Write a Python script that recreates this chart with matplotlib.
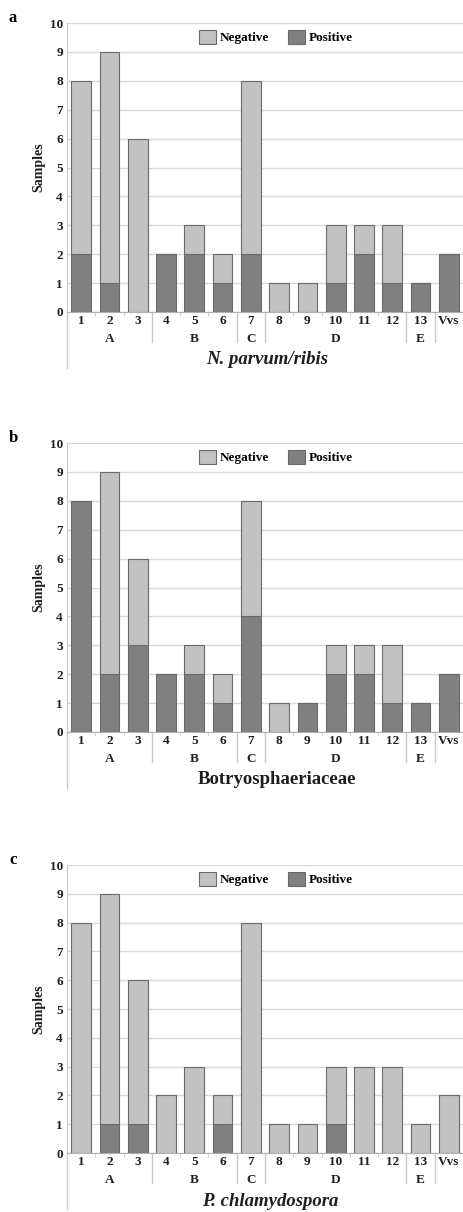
import matplotlib
matplotlib.use("Agg")
import matplotlib.pyplot as plt
import numpy as np
from matplotlib.patches import Patch

plt.rcParams['font.family'] = ['Liberation Serif', 'DejaVu Serif']
plt.rcParams['font.weight'] = 'bold'

categories = ['1', '2', '3', '4', '5', '6', '7', '8', '9', '10', '11', '12', '13', 'Vvs']
groups = ['A', 'B', 'C', 'D', 'E']
group_sizes = [3, 3, 1, 5, 1]

pos_a = [2, 1, 0, 2, 2, 1, 2, 0, 0, 1, 2, 1, 1, 2]
neg_a = [6, 8, 6, 0, 1, 1, 6, 1, 1, 2, 1, 2, 0, 0]
pos_b = [8, 2, 3, 2, 2, 1, 4, 0, 1, 2, 2, 1, 1, 2]
neg_b = [0, 7, 3, 0, 1, 1, 4, 1, 0, 1, 1, 2, 0, 0]
pos_c = [0, 1, 1, 0, 0, 1, 0, 0, 0, 1, 0, 0, 0, 0]
neg_c = [8, 8, 5, 2, 3, 1, 8, 1, 1, 2, 3, 3, 1, 2]

titles = ['N. parvum/ribis', 'Botryosphaeriaceae', 'P. chlamydospora']
title_italic = [True, False, True]
panel_letters = ['a', 'b', 'c']

NEG = '#c2c2c2'
POS = '#808080'
EDGE = '#6a6a6a'
TXT = '#1e1e1e'

W, H = 463, 1212
fig = plt.figure(figsize=(W / 100, H / 100), dpi=100)

panels = [(pos_a, neg_a), (pos_b, neg_b), (pos_c, neg_c)]
tops = [23, 443, 865]
bottoms = [312, 732, 1153]
title_x = [0.505, 0.53, 0.513]
left_px = 67

for i, ((pos, neg), top, bot) in enumerate(zip(panels, tops, bottoms)):
    ax = fig.add_axes([left_px / W, 1 - bot / H, (W - left_px) / W, (bot - top) / H])
    x = np.arange(len(categories))
    ax.bar(x, pos, width=0.7, color=POS, edgecolor=EDGE, linewidth=0.8, zorder=3, label='Positive')
    ax.bar(x, neg, width=0.7, bottom=pos, color=NEG, edgecolor=EDGE, linewidth=0.8, zorder=3, label='Negative')
    ax.set_xlim(-0.5, len(categories) - 0.5)
    ax.set_ylim(0, 10)
    ax.set_yticks(range(0, 11))
    ax.yaxis.grid(True, color='#d8d8d8', linewidth=1.0, zorder=0)
    ax.set_axisbelow(True)
    for s in ['top', 'right']:
        ax.spines[s].set_visible(False)
    ax.spines['left'].set_color('#c8c8c8')
    ax.spines['bottom'].set_color('#b0b0b0')
    ax.tick_params(axis='y', length=0, pad=3, labelsize=9.5, labelcolor=TXT)
    ax.set_xticks(x)
    ax.set_xticklabels(categories)
    ax.tick_params(axis='x', length=0, pad=2, labelsize=9.5, labelcolor=TXT)
    ax.set_xticks(np.arange(0.5, len(categories) - 1, 1.0), minor=True)
    ax.tick_params(axis='x', which='minor', length=3, color='#c8c8c8')
    for lab in ax.get_xticklabels() + ax.get_yticklabels():
        lab.set_fontweight('bold')
    ax.set_ylabel('Samples', fontsize=10, fontweight='bold', labelpad=3, color=TXT)

    trans = ax.get_xaxis_transform()
    ph = bot - top
    edges = np.cumsum(group_sizes)
    for e in edges:
        ax.plot([e - 0.5, e - 0.5], [0, -30 / ph], transform=trans, color='#c8c8c8',
                linewidth=1.0, clip_on=False)
    ax.plot([-0.5, -0.5], [0, -56 / ph], transform=trans, color='#c8c8c8',
            linewidth=1.0, clip_on=False)
    start = 0
    for g, n in zip(groups, group_sizes):
        c = start + (n - 1) / 2
        ax.text(c, -27 / ph, g, transform=trans, ha='center', va='center',
                fontsize=9.5, fontweight='bold', color=TXT)
        start += n
    ax.text(title_x[i], -48 / ph, titles[i], transform=ax.transAxes, ha='center', va='center',
            fontsize=13.5, fontweight='bold', style='italic' if title_italic[i] else 'normal',
            color=TXT)

    handles = [Patch(facecolor=NEG, edgecolor=EDGE, linewidth=0.8),
               Patch(facecolor=POS, edgecolor=EDGE, linewidth=0.8)]
    ax.legend(handles, ['Negative', 'Positive'], ncol=2, frameon=False,
              loc='center', bbox_to_anchor=(0.528, 0.952),
              handlelength=1.3, handleheight=1.3, handletextpad=0.3,
              columnspacing=1.4, prop={'weight': 'bold', 'size': 9.5})

    fig.text(13 / W, 1 - (top - 5) / H, panel_letters[i], ha='center', va='center',
             fontsize=12, fontweight='bold')

fig.savefig('out.png', dpi=100)
